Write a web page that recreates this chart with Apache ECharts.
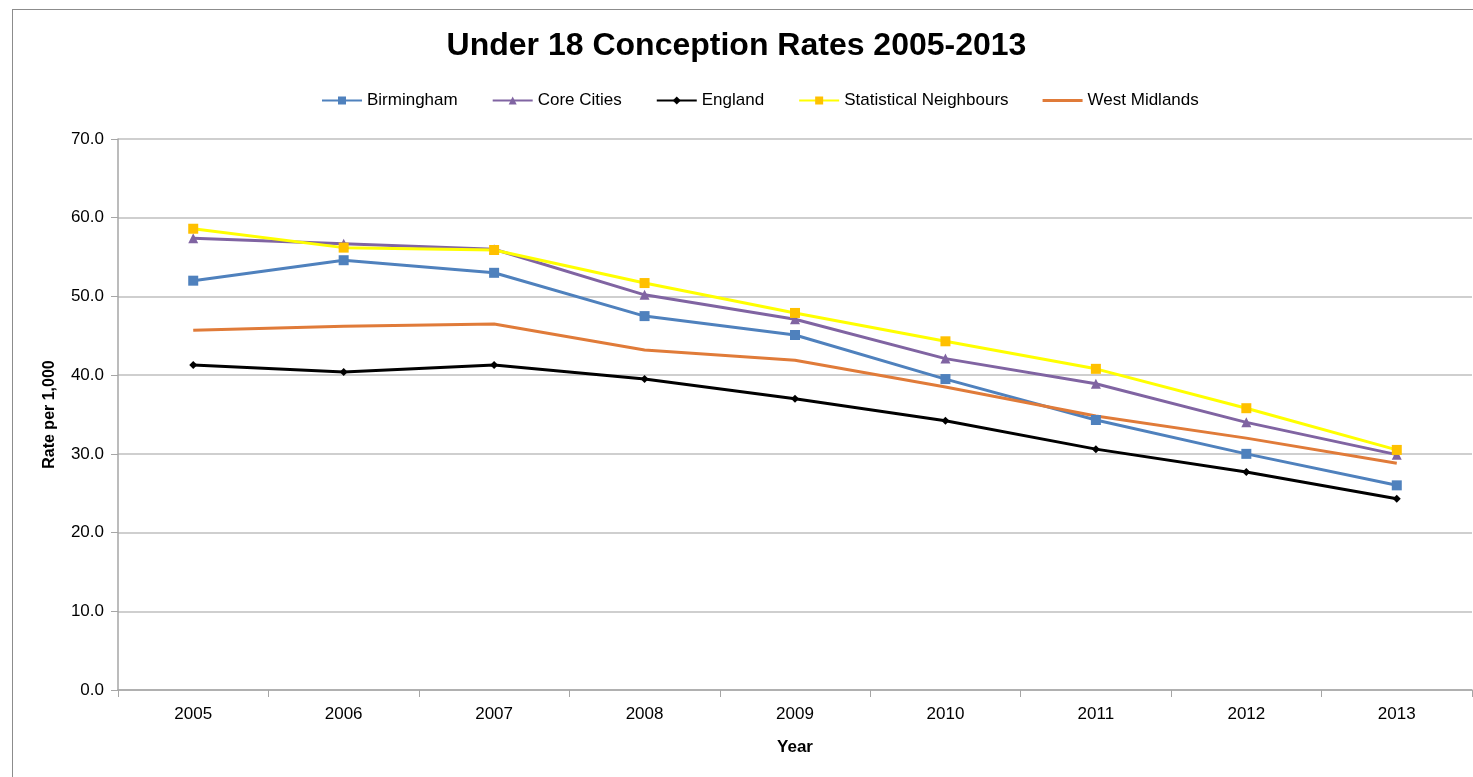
<!DOCTYPE html>
<html><head><meta charset="utf-8">
<script src="https://cdn.jsdelivr.net/npm/echarts@6/dist/echarts.min.js"></script>
<style>
html,body{margin:0;padding:0;background:#fff;}
#frame{position:absolute;left:12px;top:9px;width:1470px;height:780px;border:1px solid #8c8c8c;box-sizing:border-box;}
#c{position:absolute;left:0;top:0;width:1473px;height:777px;}
</style></head>
<body><div id="frame"></div><div id="c"></div>
<script>
const years = ['2005','2006','2007','2008','2009','2010','2011','2012','2013'];
const birmingham = [52.0, 54.6, 53.0, 47.5, 45.1, 39.5, 34.3, 30.0, 26.0];
const coreCities = [57.4, 56.7, 56.0, 50.2, 47.1, 42.1, 38.9, 34.0, 29.9];
const england = [41.3, 40.4, 41.3, 39.5, 37.0, 34.2, 30.6, 27.7, 24.3];
const statNeighbours = [58.6, 56.2, 55.9, 51.7, 47.9, 44.3, 40.8, 35.8, 30.5];
const westMidlands = [45.7, 46.2, 46.5, 43.2, 41.9, 38.5, 34.8, 32.0, 28.8];

const font = 'Liberation Sans, Arial, sans-serif';
const chart = echarts.init(document.getElementById('c'));
function s(name, data, color, symbol, size, markerColor){
  return {name, type:'line', data, symbol, symbolSize:size, showSymbol: symbol!=='none',
    lineStyle:{color, width:3}, itemStyle:{color: markerColor||color},
    emphasis:{disabled:true}, animation:false};
}
chart.setOption({
  backgroundColor:'transparent',
  title:{text:'Under 18 Conception Rates 2005-2013', left:'center', top:25,
    textStyle:{fontFamily:font, fontSize:32, fontWeight:'bold', color:'#000'}},
  legend:{top:87, left:316, itemGap:34, itemWidth:40, itemHeight:10,
    textStyle:{fontFamily:font, fontSize:17, color:'#000'},
    data:['Birmingham','Core Cities','England','Statistical Neighbours',
      {name:'West Midlands', icon:'path://M0,0 L40,0 L40,3 L0,3 Z'}]},
  grid:{left:118, right:1, top:139, bottom:87, containLabel:false},
  xAxis:{type:'category', data:years, boundaryGap:true, name:'Year', nameLocation:'middle', nameGap:49,
    nameTextStyle:{fontFamily:font, fontSize:17, fontWeight:'bold', color:'#000'},
    axisLine:{lineStyle:{color:'#a6a6a6', width:1.5}},
    axisTick:{show:true, length:7, lineStyle:{color:'#a6a6a6'}, alignWithLabel:false},
    axisLabel:{fontFamily:font, fontSize:17, color:'#000', margin:16}},
  yAxis:{type:'value', min:0, max:70, interval:10, name:'Rate per 1,000', nameLocation:'middle', nameGap:60,
    nameTextStyle:{fontFamily:font, fontSize:16, fontWeight:'bold', color:'#000'},
    axisLine:{show:true, lineStyle:{color:'#a6a6a6', width:1.5}},
    axisTick:{show:true, length:7, lineStyle:{color:'#a6a6a6'}},
    axisLabel:{fontFamily:font, fontSize:17, color:'#000', margin:14, formatter:v=>v.toFixed(1)},
    splitLine:{lineStyle:{color:'#bfbfbf', width:1.5}}},
  series:[
    s('Birmingham', birmingham, '#4f81bd', 'rect', 10),
    s('Core Cities', coreCities, '#8064a2', 'triangle', 10),
    s('England', england, '#000000', 'diamond', 8),
    s('Statistical Neighbours', statNeighbours, '#ffff00', 'rect', 10, '#ffc000'),
    s('West Midlands', westMidlands, '#e07b39', 'none', 0)
  ]
});
</script></body></html>
